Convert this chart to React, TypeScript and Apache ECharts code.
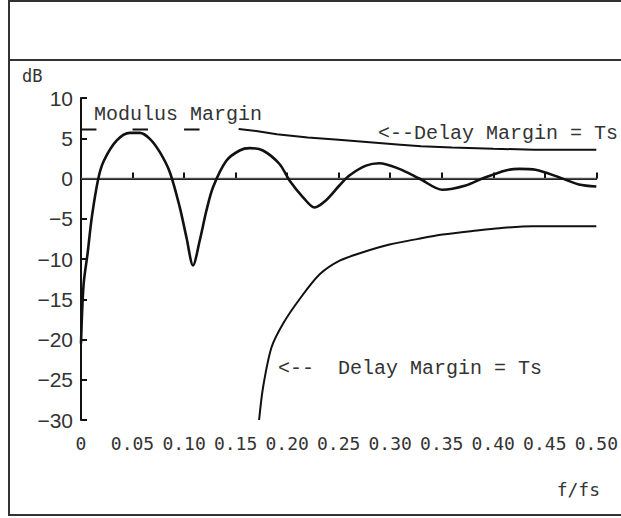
import React, { useEffect, useRef } from "react";
import * as echarts from "echarts";

// Sensitivity function |S| (dB) vs normalized frequency f/fs
const sensF = [0, 0.0025, 0.0065, 0.0105, 0.0168, 0.0222, 0.0345, 0.0474, 0.0571, 0.0668, 0.0765, 0.0862, 0.0958, 0.1023, 0.1087, 0.1152, 0.1217, 0.1281, 0.141, 0.1539, 0.1636, 0.1765, 0.1926, 0.2023, 0.2152, 0.2265, 0.2378, 0.2507, 0.2604, 0.2765, 0.2894, 0.3088, 0.3282, 0.3508, 0.3733, 0.3895, 0.4121, 0.425, 0.4411, 0.4637, 0.4831, 0.5];
const sensDb = [-20.5, -13.2, -9.2, -4.8, 0, 2.2, 4.7, 5.67, 5.67, 4.93, 3.27, 0.78, -3.56, -7.3, -10.8, -7.7, -3.98, -1.08, 2.2, 3.48, 3.77, 3.48, 1.8, -0.25, -2.3, -3.6, -2.7, -0.87, 0.37, 1.6, 1.9, 1.2, 0, -1.4, -0.87, 0, 1.0, 1.2, 1.08, 0.16, -0.75, -1.0];

// Upper template (modulus margin / delay margin), null = gap
const upperF = [0, 0.015, null, 0.05, 0.065, null, 0.1, 0.115, null, 0.153, 0.17, 0.19, 0.22, 0.25, 0.28, 0.31, 0.33, 0.36, 0.4, 0.44, 0.5];
const upperDb = [6.1, 6.1, null, 6.1, 6.1, null, 6.1, 6.1, null, 6.15, 5.9, 5.5, 5.1, 4.8, 4.5, 4.2, 4.0, 3.85, 3.7, 3.56, 3.56];

// Lower template (delay margin)
const lowerF = [0.1728, 0.1767, 0.1848, 0.196, 0.212, 0.2316, 0.251, 0.2735, 0.2994, 0.327, 0.351, 0.384, 0.406, 0.438, 0.5];
const lowerDb = [-30, -25.9, -21.0, -18.05, -15.0, -11.9, -10.2, -9.16, -8.2, -7.5, -6.96, -6.46, -6.17, -5.93, -5.93];

const zeroF = [0, 0.5];
const zeroDb = [0, 0];

const X_MIN = 0, X_MAX = 0.5, X_STEP = 0.05;
const Y_MIN = -30, Y_MAX = 10, Y_STEP = 5;

const pairs = (xs: (number | null)[], ys: (number | null)[]) =>
  xs.map((x, i) => (x === null || ys[i] === null ? ["-", "-"] : [x, ys[i]]));

const MONO = "'DejaVu Sans Mono', 'Liberation Mono', monospace";
const NARROW = "'Liberation Sans Narrow', 'Arial Narrow', 'Liberation Sans', sans-serif";
const SERIFMONO = "'Liberation Mono', 'Courier New', monospace";

export default function App() {
  const ref = useRef<HTMLDivElement>(null);
  useEffect(() => {
    document.body.style.margin = "0";
    const chart = echarts.init(ref.current!, null, { renderer: "svg" });
    chart.setOption({
      animation: false,
      backgroundColor: "#fff",
      grid: { left: 81, top: 98, right: 24, bottom: 98, containLabel: false },
      xAxis: {
        type: "value",
        min: X_MIN,
        max: X_MAX,
        interval: X_STEP,
        axisLine: { lineStyle: { color: "#111", width: 2 } },
        axisTick: { inside: true, length: 6, lineStyle: { color: "#111", width: 2 } },
        splitLine: { show: false },
        axisLabel: {
          margin: 14,
          color: "#333",
          fontFamily: MONO,
          fontSize: 18,
          formatter: (v: number) => (v === 0 ? "0" : v.toFixed(2)),
        },
      },
      yAxis: {
        type: "value",
        min: Y_MIN,
        max: Y_MAX,
        interval: Y_STEP,
        axisLine: { lineStyle: { color: "#111", width: 2 } },
        axisTick: { inside: true, length: 6, lineStyle: { color: "#111", width: 2 } },
        splitLine: { show: false },
        axisLabel: {
          margin: 8,
          color: "#333",
          fontFamily: NARROW,
          fontSize: 21,
          formatter: (v: number) => String(v).replace("-", "\u2212"),
        },
      },
      series: [
        {
          type: "line",
          data: pairs(zeroF, zeroDb),
          showSymbol: false,
          lineStyle: { color: "#555", width: 1.5 },
        },
        {
          type: "line",
          data: pairs(sensF, sensDb),
          showSymbol: false,
          smooth: 0.3,
          lineStyle: { color: "#111", width: 2.6 },
        },
        {
          type: "line",
          data: pairs(upperF, upperDb),
          showSymbol: false,
          connectNulls: false,
          lineStyle: { color: "#111", width: 2 },
        },
        {
          type: "line",
          data: pairs(lowerF, lowerDb),
          showSymbol: false,
          smooth: 0.3,
          lineStyle: { color: "#111", width: 2 },
        },
      ],
      graphic: [
        { type: "rect", shape: { x: 9, y: 1, width: 700, height: 514 }, style: { fill: "none", stroke: "#333", lineWidth: 2 }, silent: true },
        { type: "line", shape: { x1: 9, y1: 60, x2: 700, y2: 60 }, style: { stroke: "#333", lineWidth: 2 }, silent: true },
        { type: "text", x: 22, y: 76, style: { text: "dB", font: `17px ${MONO}`, fill: "#333", textVerticalAlign: "middle" } },
        { type: "text", x: 600, y: 489, style: { text: "f/fs", font: `18px ${MONO}`, fill: "#333", textAlign: "right", textVerticalAlign: "middle" } },
        { type: "text", x: 94, y: 114, style: { text: "Modulus Margin", font: `20px ${SERIFMONO}`, fill: "#333", textVerticalAlign: "middle" } },
        { type: "text", x: 378, y: 133, style: { text: "<--Delay Margin = Ts", font: `20px ${SERIFMONO}`, fill: "#333", textVerticalAlign: "middle" } },
        { type: "text", x: 278, y: 368, style: { text: "<--  Delay Margin = Ts", font: `20px ${SERIFMONO}`, fill: "#333", textVerticalAlign: "middle" } },
      ],
    });
    return () => chart.dispose();
  }, []);
  return <div ref={ref} style={{ position: "absolute", left: 0, top: 0, width: 621, height: 518 }} />;
}
